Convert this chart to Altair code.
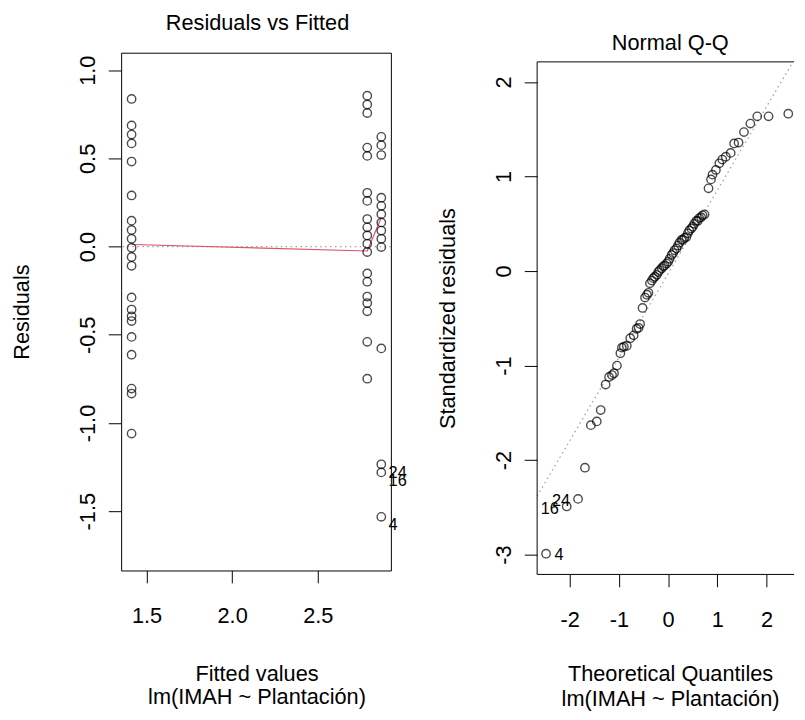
import altair as alt
import pandas as pd

FONT = "Liberation Sans"
FS = 22

# ---------------- Residuals vs Fitted ----------------
fitted_levels = [1.413, 2.789, 2.871]
resid_g1 = [0.837, 0.687, 0.635, 0.585, 0.482, 0.290, 0.147, 0.094, 0.044, -0.007,
            -0.059, -0.109, -0.288, -0.357, -0.395, -0.422, -0.512, -0.613, -0.805,
            -0.833, -1.060]
resid_g2 = [0.855, 0.805, 0.757, 0.561, 0.514, 0.305, 0.259, 0.156, 0.109, 0.063,
            0.016, -0.031, -0.152, -0.199, -0.283, -0.320, -0.367, -0.540, -0.749]
resid_g3 = [0.622, 0.575, 0.519, 0.277, 0.231, 0.184, 0.137, 0.091, 0.044, -0.003,
            -0.577, -1.234, -1.280, -1.532]
smooth_x = [1.413, 2.789, 2.871]
smooth_y = [0.012, -0.025, 0.165]
res_id_labels = ["24", "16", "4"]
res_id_fitted = [2.871, 2.871, 2.871]
res_id_resid = [-1.234, -1.280, -1.532]

res_x_ticks = [1.5, 2.0, 2.5]
res_y_ticks = [-1.5, -1.0, -0.5, 0.0, 0.5, 1.0]
res_x_domain = [1.352, 2.927]
res_y_domain = [-1.836, 1.099]

# ---------------- Normal Q-Q ----------------
qq_theoretical = [-2.48, -2.06, -1.83, -1.69, -1.57, -1.45, -1.37, -1.27, -1.20, -1.14,
                  -1.10, -1.04, -0.97, -0.94, -0.90, -0.84, -0.77, -0.70, -0.64, -0.60,
                  -0.57, -0.52, -0.47, -0.43, -0.40, -0.37, -0.33, -0.30, -0.27, -0.23,
                  -0.20, -0.17, -0.13, -0.10, -0.07, -0.03, 0.00, 0.03, 0.07, 0.10,
                  0.13, 0.17, 0.20, 0.23, 0.27, 0.30, 0.33, 0.37, 0.40, 0.43,
                  0.47, 0.50, 0.53, 0.57, 0.60, 0.63, 0.67, 0.70, 0.74, 0.82,
                  0.87, 0.90, 0.97, 1.04, 1.10, 1.17, 1.27, 1.34, 1.43, 1.54,
                  1.67, 1.81, 2.04, 2.44]
qq_std_resid = [-2.99, -2.49, -2.41, -2.08, -1.63, -1.59, -1.47, -1.20, -1.12, -1.10,
                -1.08, -1.00, -0.87, -0.81, -0.80, -0.79, -0.71, -0.68, -0.61, -0.60,
                -0.56, -0.39, -0.28, -0.25, -0.23, -0.13, -0.10, -0.075, -0.06, -0.04,
                -0.01, 0.01, 0.03, 0.05, 0.06, 0.08, 0.10, 0.13, 0.17, 0.19,
                0.22, 0.24, 0.27, 0.30, 0.33, 0.33, 0.35, 0.36, 0.40, 0.43,
                0.45, 0.47, 0.50, 0.53, 0.53, 0.56, 0.57, 0.59, 0.60, 0.875,
                0.97, 1.02, 1.07, 1.14, 1.18, 1.21, 1.25, 1.35, 1.36, 1.47,
                1.56, 1.637, 1.637, 1.665]
qq_line_x = [-2.661, 2.535]
qq_line_y = [-2.380, 2.213]
qq_id_left_labels = ["16", "24"]
qq_id_left_x = [-2.06, -1.83]
qq_id_left_y = [-2.49, -2.41]
qq_id_right_labels = ["4"]
qq_id_right_x = [-2.48]
qq_id_right_y = [-2.99]

qq_x_ticks = [-2, -1, 0, 1, 2]
qq_y_ticks = [-3, -2, -1, 0, 1, 2]
qq_x_domain = [-2.661, 2.557]
qq_y_domain = [-3.209, 2.310]
qq_frame_top = 2.213

# ---------------- data frames ----------------
res_df = pd.DataFrame({
    "x": [fitted_levels[0]] * len(resid_g1) + [fitted_levels[1]] * len(resid_g2)
         + [fitted_levels[2]] * len(resid_g3),
    "y": resid_g1 + resid_g2 + resid_g3,
})
smooth_df = pd.DataFrame({"x": smooth_x, "y": smooth_y})
res_lab_df = pd.DataFrame({"x": res_id_fitted, "y": res_id_resid, "t": res_id_labels})
zero_df = pd.DataFrame({"y": [0.0]})

qq_df = pd.DataFrame({"x": qq_theoretical, "y": qq_std_resid})
qq_line_df = pd.DataFrame({"x": qq_line_x, "y": qq_line_y})
qq_labL_df = pd.DataFrame({"x": qq_id_left_x, "y": qq_id_left_y, "t": qq_id_left_labels})
qq_labR_df = pd.DataFrame({"x": qq_id_right_x, "y": qq_id_right_y, "t": qq_id_right_labels})
qq_top_df = pd.DataFrame({"y": [qq_frame_top]})
qq_left_df = pd.DataFrame({"x": [qq_x_domain[0]], "y": [qq_y_domain[0]], "y2": [qq_frame_top]})
qq_bottom_df = pd.DataFrame({"y": [qq_y_domain[0]]})

LABEL_EXPR = "replace(format(datum.value, '{fmt}'), '\u2212', '-')"

common_axis = dict(
    grid=False, domain=False, labelFont=FONT, labelFontSize=FS, labelColor="black",
    titleFont=FONT, titleFontSize=FS, titleFontWeight="normal", titleColor="black",
    tickColor="black", tickWidth=1, labelFlush=False, labelOverlap=False,
)


def x_axis(values, fmt, title, title_x, title_y, lh):
    return alt.Axis(values=values, labelExpr=LABEL_EXPR.format(fmt=fmt), title=title,
                    titleX=title_x, titleY=title_y, titleBaseline="alphabetic",
                    titleAlign="center", titleLineHeight=lh, tickSize=12.5,
                    labelPadding=23.5, **common_axis)


def y_axis(values, fmt, title, title_x, title_y):
    return alt.Axis(values=values, labelExpr=LABEL_EXPR.format(fmt=fmt), title=title,
                    labelAngle=270, labelAlign="center", labelBaseline="alphabetic",
                    tickSize=13, labelPadding=14, titleAngle=270,
                    titleBaseline="alphabetic", titleAlign="center", titleX=title_x,
                    titleY=title_y, **common_axis)


rx = alt.X("x:Q", scale=alt.Scale(domain=res_x_domain, nice=False, zero=False),
           axis=x_axis(res_x_ticks, ".1f", ["Fitted values", "lm(IMAH ~ Plantación)"],
                       137, 111, 24))
ry = alt.Y("y:Q", scale=alt.Scale(domain=res_y_domain, nice=False, zero=False),
           axis=y_axis(res_y_ticks, ".1f", "Residuals", -94, 262))

res_points = alt.Chart(res_df).mark_point(
    shape="circle", size=72, filled=False, color="black", strokeWidth=1.4
).encode(x=rx, y=ry)
res_zero = alt.Chart(zero_df).mark_rule(
    color="#A0A0A0", strokeDash=[1.5, 3.5], strokeWidth=1.3
).encode(y=ry)
res_smooth = alt.Chart(smooth_df).mark_line(color="#DF536B", strokeWidth=1.2).encode(x=rx, y=ry)
res_labels = alt.Chart(res_lab_df).mark_text(
    align="left", baseline="alphabetic", dx=7.4, dy=13.5, fontSize=16.5, font=FONT, color="black"
).encode(x=rx, y=ry, text="t:N")

left = alt.layer(res_zero, res_smooth, res_points, res_labels).properties(
    width=273, height=524,
    title=alt.TitleParams("Residuals vs Fitted", font=FONT, fontSize=FS, fontWeight="normal",
                          color="black", offset=0, baseline="alphabetic", frame="group",
                          anchor="middle", dx=1.5, dy=-0.5),
)

qx = alt.X("x:Q", scale=alt.Scale(domain=qq_x_domain, nice=False, zero=False),
           axis=x_axis(qq_x_ticks, "d", ["Theoretical Quantiles", "lm(IMAH ~ Plantación)"],
                       134.5, 107.5, 24.7))
qy = alt.Y("y:Q", scale=alt.Scale(domain=qq_y_domain, nice=False, zero=False),
           axis=y_axis(qq_y_ticks, "d", "Standardized residuals", -84, 268.5))

qq_points = alt.Chart(qq_df).mark_point(
    shape="circle", size=72, filled=False, color="black", strokeWidth=1.4
).encode(x=qx, y=qy)
qq_line = alt.Chart(qq_line_df).mark_line(
    color="#A0A0A0", strokeDash=[1.5, 3.5], strokeWidth=1.3
).encode(x=qx, y=qy)
qq_top = alt.Chart(qq_top_df).mark_rule(color="black", strokeWidth=1).encode(y=qy)
qq_left = alt.Chart(qq_left_df).mark_rule(color="black", strokeWidth=1).encode(
    x=qx, y=qy, y2="y2:Q")
qq_bottom = alt.Chart(qq_bottom_df).mark_rule(color="black", strokeWidth=1).encode(y=qy)
qq_labL = alt.Chart(qq_labL_df).mark_text(
    align="right", baseline="alphabetic", dx=-8, dy=7.5, fontSize=16.5, font=FONT, color="black"
).encode(x=qx, y=qy, text="t:N")
qq_labR = alt.Chart(qq_labR_df).mark_text(
    align="left", baseline="alphabetic", dx=8.5, dy=6.7, fontSize=16.5, font=FONT, color="black"
).encode(x=qx, y=qy, text="t:N")

right = alt.layer(qq_line, qq_points, qq_labL, qq_labR, qq_top, qq_left, qq_bottom).properties(
    width=260, height=528,
    view=alt.ViewBackground(stroke="transparent"),
    title=alt.TitleParams("Normal Q-Q", font=FONT, fontSize=FS, fontWeight="normal",
                          color="black", offset=0, baseline="alphabetic", frame="group",
                          anchor="middle", dx=4.7, dy=18.8),
)

chart = alt.hconcat(left, right, spacing=148, bounds="flush").properties(
    padding={"left": 1.5, "top": 0, "right": 0, "bottom": 0}
).configure_view(stroke="black", strokeWidth=1)

chart.save("out.html", embed_options={"renderer": "svg", "actions": False})
